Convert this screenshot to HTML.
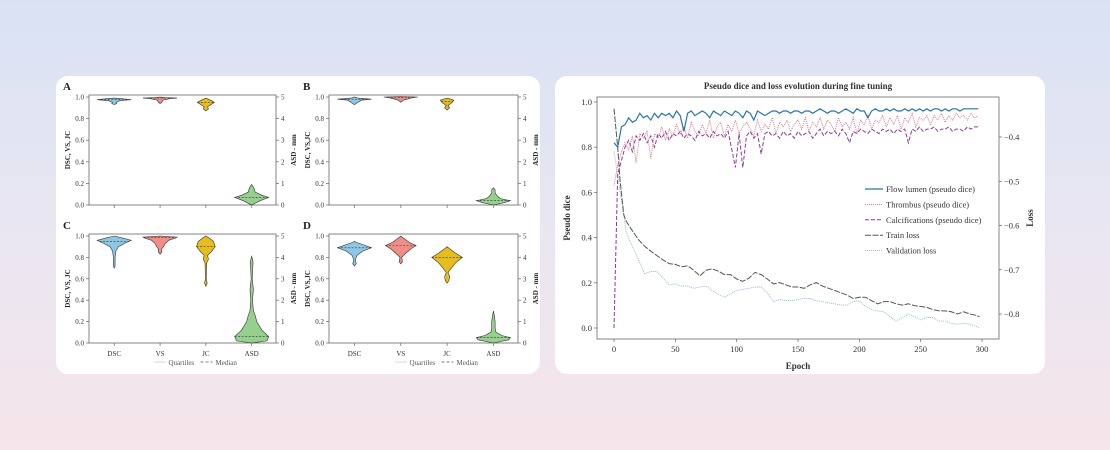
<!DOCTYPE html>
<html><head><meta charset="utf-8">
<style>
html,body{margin:0;padding:0;width:1110px;height:450px;overflow:hidden;font-family:"Liberation Serif",serif}
body{background:linear-gradient(180deg,#d9e2f4 0%,#e9e6f2 50%,#f6e5ea 100%)}
.card{position:absolute;top:76px;height:298px;background:#fff;border-radius:12px}
svg{position:absolute;left:0;top:0}
</style></head>
<body>
<div class="card" style="left:56px;width:484px"></div>
<div class="card" style="left:555px;width:490px"></div>
<svg id="s" width="1110" height="450" font-family="Liberation Serif, serif"></svg>
<script>
// ---------- Violin data ----------
const violinCats = ["DSC","VS","JC","ASD"];
const panelLabels = ["A","B","C","D"];
const violinA = [
 [[0.93,0],[0.94,0.15],[0.95,0.1],[0.965,0.3],[0.975,1],[0.985,0.4],[0.99,0]],
 [[0.94,0],[0.95,0.1],[0.97,0.15],[0.985,0.6],[0.99,1],[0.995,0.3],[1.0,0]],
 [[0.87,0],[0.89,0.15],[0.91,0.1],[0.93,0.3],[0.95,0.5],[0.96,0.4],[0.975,0.2],[0.99,0]],
 [[0,0],[0.2,0.5],[0.35,1],[0.45,0.6],[0.6,0.2],[0.75,0.15],[0.9,0.05],[0.95,0]]];
const violinB = [
 [[0.93,0],[0.95,0.2],[0.97,0.4],[0.98,1],[0.99,0.2],[1.0,0]],
 [[0.95,0],[0.97,0.15],[0.99,0.6],[1.0,1],[1.005,0]],
 [[0.88,0],[0.9,0.15],[0.92,0.05],[0.95,0.3],[0.97,0.4],[0.99,0]],
 [[0,0],[0.1,0.6],[0.2,1],[0.3,0.4],[0.4,0.25],[0.55,0.1],[0.7,0.1],[0.8,0]]];
const violinC = [
 [[0.7,0],[0.72,0.05],[0.8,0.05],[0.86,0.1],[0.9,0.25],[0.93,0.6],[0.96,1],[0.98,0.5],[1.0,0]],
 [[0.83,0],[0.85,0.1],[0.88,0.1],[0.9,0.2],[0.93,0.3],[0.96,0.5],[0.98,0.9],[0.99,1],[1.0,0]],
 [[0.53,0],[0.56,0.08],[0.6,0.02],[0.75,0.05],[0.78,0.15],[0.82,0.1],[0.85,0.3],[0.9,0.55],[0.95,0.45],[0.98,0.2],[1.0,0]],
 [[0,0],[0.1,0.9],[0.3,1],[0.6,0.6],[1.0,0.3],[1.3,0.2],[1.5,0.1],[2,0.05],[2.5,0.1],[3,0.03],[3.8,0.08],[4.05,0]]];
const violinD = [
 [[0.72,0],[0.74,0.1],[0.78,0.05],[0.82,0.15],[0.86,0.5],[0.89,1],[0.92,0.5],[0.94,0.1],[0.95,0]],
 [[0.74,0],[0.76,0.1],[0.8,0.05],[0.84,0.3],[0.88,0.6],[0.91,0.9],[0.94,0.5],[0.98,0.15],[1.0,0]],
 [[0.56,0],[0.58,0.1],[0.62,0.15],[0.66,0.05],[0.7,0.25],[0.75,0.5],[0.8,0.9],[0.84,0.5],[0.88,0.15],[0.9,0]],
 [[0,0],[0.15,0.9],[0.25,1],[0.35,0.5],[0.5,0.15],[0.7,0.1],[1.0,0.1],[1.3,0.05],[1.5,0]]];
const mediansA = [0.975,0.99,0.95,0.35];
const mediansB = [0.98,0.995,0.96,0.2];
const mediansC = [0.95,0.985,0.9,0.3];
const mediansD = [0.89,0.91,0.8,0.25];
const leftTicks = [0,0.2,0.4,0.6,0.8,1.0];
const rightTicks = [0,1,2,3,4,5];

// ---------- Training data ----------
const diceEpochs = Array.from({length:100},(_, i)=>i*3);
const flowLumen = [0.82,0.80,0.89,0.90,0.93,0.91,0.92,0.95,0.93,0.94,0.92,0.95,0.93,0.95,0.94,0.95,0.93,0.96,0.94,0.87,0.95,0.96,0.94,0.95,0.96,0.95,0.93,0.96,0.95,0.94,0.96,0.95,0.94,0.96,0.95,0.93,0.96,0.95,0.92,0.96,0.95,0.94,0.95,0.96,0.96,0.95,0.96,0.96,0.95,0.96,0.96,0.95,0.96,0.96,0.95,0.96,0.97,0.96,0.95,0.96,0.96,0.95,0.96,0.97,0.96,0.95,0.97,0.96,0.96,0.93,0.96,0.97,0.96,0.96,0.97,0.96,0.97,0.96,0.96,0.97,0.96,0.97,0.96,0.97,0.96,0.97,0.96,0.97,0.97,0.96,0.97,0.96,0.97,0.97,0.96,0.97,0.97,0.97,0.97,0.97];
const thrombus = [0.63,0.72,0.78,0.82,0.79,0.85,0.73,0.86,0.84,0.87,0.75,0.86,0.84,0.89,0.83,0.88,0.85,0.90,0.86,0.89,0.84,0.91,0.87,0.85,0.90,0.86,0.92,0.84,0.89,0.91,0.85,0.90,0.87,0.92,0.86,0.89,0.91,0.88,0.85,0.92,0.87,0.90,0.88,0.93,0.86,0.91,0.89,0.92,0.87,0.90,0.92,0.88,0.93,0.87,0.91,0.89,0.93,0.88,0.92,0.90,0.87,0.93,0.89,0.91,0.88,0.93,0.86,0.92,0.90,0.94,0.88,0.92,0.91,0.94,0.89,0.93,0.90,0.94,0.88,0.93,0.91,0.95,0.89,0.93,0.92,0.94,0.90,0.94,0.92,0.95,0.91,0.94,0.92,0.95,0.93,0.94,0.92,0.95,0.93,0.94];
const calcifications = [0.00,0.68,0.74,0.80,0.83,0.78,0.85,0.83,0.86,0.82,0.85,0.80,0.86,0.84,0.87,0.83,0.86,0.85,0.87,0.84,0.86,0.85,0.83,0.87,0.85,0.86,0.84,0.87,0.85,0.86,0.84,0.87,0.79,0.71,0.86,0.71,0.85,0.87,0.84,0.86,0.77,0.86,0.87,0.85,0.86,0.84,0.87,0.85,0.86,0.84,0.87,0.85,0.86,0.87,0.84,0.86,0.88,0.85,0.87,0.86,0.87,0.85,0.88,0.86,0.82,0.87,0.86,0.88,0.87,0.86,0.88,0.87,0.86,0.88,0.87,0.88,0.86,0.88,0.87,0.88,0.82,0.88,0.87,0.89,0.87,0.88,0.88,0.89,0.87,0.88,0.88,0.89,0.87,0.88,0.88,0.87,0.89,0.88,0.89,0.89];
const lossEpochs = [0,3,5,8,10,15,20,25,30,35,40,45,50,55,60,65,70,75,80,85,90,95,100,105,110,115,120,125,130,135,140,145,150,155,160,165,170,175,180,185,190,195,200,205,210,215,220,225,230,235,240,245,250,255,260,265,270,275,280,285,290,295,298];
const trainLoss = [-0.336,-0.423,-0.499,-0.576,-0.591,-0.612,-0.632,-0.647,-0.658,-0.668,-0.678,-0.686,-0.688,-0.693,-0.691,-0.701,-0.714,-0.701,-0.698,-0.703,-0.711,-0.711,-0.721,-0.726,-0.719,-0.706,-0.711,-0.721,-0.732,-0.729,-0.734,-0.739,-0.739,-0.742,-0.734,-0.729,-0.737,-0.742,-0.747,-0.752,-0.757,-0.765,-0.762,-0.762,-0.77,-0.777,-0.772,-0.772,-0.777,-0.78,-0.777,-0.781,-0.783,-0.785,-0.79,-0.793,-0.793,-0.795,-0.8,-0.795,-0.8,-0.803,-0.806];
const valLoss = [-0.433,-0.484,-0.525,-0.576,-0.617,-0.647,-0.678,-0.709,-0.704,-0.704,-0.719,-0.734,-0.732,-0.737,-0.737,-0.742,-0.739,-0.737,-0.747,-0.755,-0.762,-0.755,-0.747,-0.744,-0.742,-0.739,-0.739,-0.752,-0.772,-0.767,-0.77,-0.77,-0.767,-0.765,-0.765,-0.77,-0.772,-0.775,-0.777,-0.78,-0.78,-0.772,-0.77,-0.783,-0.79,-0.793,-0.795,-0.806,-0.816,-0.808,-0.8,-0.806,-0.813,-0.808,-0.808,-0.816,-0.816,-0.821,-0.823,-0.821,-0.823,-0.828,-0.831];
const xTicks = [0,50,100,150,200,250,300];
const diceTicks = [0,0.2,0.4,0.6,0.8,1.0];
const lossTicks = [-0.4,-0.5,-0.6,-0.7,-0.8];

const NS="http://www.w3.org/2000/svg";
const svg=document.getElementById('s');
function mk(tag,attrs,parent,txt){const e=document.createElementNS(NS,tag);for(const k in attrs)e.setAttribute(k,attrs[k]);if(txt!==undefined)e.textContent=txt;(parent||svg).appendChild(e);return e;}

// ---------- violins ----------
const colors=["#8cc7e6","#ef8d86","#e6bd1c","#96d08f"];
const panels=[
 {x0:89,x1:276,y0:95,y1:205,lab:"A",v:violinA,m:mediansA,leg:false},
 {x0:329,x1:518,y0:95,y1:205,lab:"B",v:violinB,m:mediansB,leg:false},
 {x0:89,x1:276,y0:234,y1:343,lab:"C",v:violinC,m:mediansC,leg:true},
 {x0:329,x1:518,y0:234,y1:343,lab:"D",v:violinD,m:mediansD,leg:true}];
panels.forEach((p,pi)=>{
  const g=mk('g',{});
  
  
  const top=p.y0+2;
  const yL=v=>p.y1-(v)*(p.y1-top);
  const yR=v=>p.y1-(v/5)*(p.y1-top);
  const w=p.x1-p.x0;
  const xc=i=>p.x0+w*(0.135+i*0.245);
  mk('rect',{x:p.x0,y:p.y0,width:w,height:p.y1-p.y0,fill:'none',stroke:'#666','stroke-width':0.8},g);
  const pl=mk('text',{x:p.x0-26,y:p.y0-5,'font-size':11,'font-weight':'bold',fill:'#222'},g,panelLabels[pi]);
  
  
  leftTicks.forEach(t=>{const y=yL(t);mk('line',{x1:p.x0-3,x2:p.x0,y1:y,y2:y,stroke:'#666','stroke-width':0.7},g);
    mk('text',{x:p.x0-5,y:y+2.5,'font-size':7,'text-anchor':'end',fill:'#333'},g,t.toFixed(1));});
  rightTicks.forEach(t=>{const y=yR(t);mk('line',{x1:p.x1,x2:p.x1+3,y1:y,y2:y,stroke:'#666','stroke-width':0.7},g);
    mk('text',{x:p.x1+5,y:y+2.5,'font-size':7,fill:'#333'},g,String(t));});
  const yc=(p.y0+p.y1)/2;
  const lt=mk('text',{x:0,y:0,'font-size':7,'font-weight':'bold','text-anchor':'middle',fill:'#222',transform:`translate(${p.x0-19},${yc}) rotate(-90)`},g,pi%2?"DSC, VS,JC":"DSC, VS, JC");
  
  
  const rt=mk('text',{x:0,y:0,'font-size':7,'font-weight':'bold','text-anchor':'middle',fill:'#222',transform:`translate(${p.x1+20},${yc}) rotate(-90)`},g,"ASD - mm");
  
  
  p.v.forEach((prof,i)=>{
    const sy=i===3?yR:yL; const cx=xc(i); const maxW=17;
    let d='';prof.forEach((k,j)=>{d+=(j?'L':'M')+(cx+k[1]*maxW).toFixed(1)+','+sy(k[0]).toFixed(1);});
    for(let j=prof.length-1;j>=0;j--){const k=prof[j];d+='L'+(cx-k[1]*maxW).toFixed(1)+','+sy(k[0]).toFixed(1);}
    const path=mk('path',{d:d+'Z',fill:colors[i],stroke:'#333','stroke-width':0.6},g);
    
    
    const my=sy(p.m[i]);
    let hw=0;for(let j=1;j<prof.length;j++){const a=prof[j-1],b=prof[j];if((p.m[i]-a[0])*(p.m[i]-b[0])<=0){const t=(p.m[i]-a[0])/((b[0]-a[0])||1);hw=(a[1]+t*(b[1]-a[1]))*maxW;}}
    mk('line',{x1:cx-hw,x2:cx+hw,y1:my,y2:my,stroke:'#333','stroke-width':0.6,'stroke-dasharray':'2,1.5'},g);
    mk('line',{x1:cx,x2:cx,y1:p.y1,y2:p.y1+3,stroke:'#666','stroke-width':0.7},g);
    if(p.leg){const tl=mk('text',{x:cx,y:p.y1+13,'font-size':7,'text-anchor':'middle',fill:'#333'},g,violinCats[i]);
      
      }
  });
  if(p.leg){const lx=(p.x0+p.x1)/2-28;
    const lg=mk('g',{},g);
    
    
    mk('line',{x1:lx,x2:lx+12,y1:p.y1+19,y2:p.y1+19,stroke:'#e07b80','stroke-width':0.8,'stroke-dasharray':'1,1'},lg);
    mk('text',{x:lx+14,y:p.y1+22,'font-size':7,fill:'#555'},lg,'Quartiles');
    mk('line',{x1:lx+46,x2:lx+58,y1:p.y1+19,y2:p.y1+19,stroke:'#555','stroke-width':0.8,'stroke-dasharray':'3,2'},lg);
    mk('text',{x:lx+61,y:p.y1+22,'font-size':7,fill:'#555'},lg,'Median');}
});

// ---------- training chart ----------
const L=597,R=999,T=97,B=339;
const X=e=>614+e*(982-614)/300;
const Y=v=>328-v*226;
const Y2=v=>137+(-0.4-v)*442.5;
const tg=mk('g',{});


const tt=mk('text',{x:798,y:89,'font-size':9,'font-weight':'bold','text-anchor':'middle',fill:'#333'},tg,'Pseudo dice and loss evolution during fine tuning');


mk('rect',{x:L,y:T,width:R-L,height:B-T,fill:'none',stroke:'#666','stroke-width':0.8},tg);
xTicks.forEach(t=>{const x=X(t);mk('line',{x1:x,x2:x,y1:B,y2:B+3,stroke:'#666','stroke-width':0.7},tg);
  mk('text',{x:x,y:B+13,'font-size':8.5,'text-anchor':'middle',fill:'#333'},tg,String(t));});
diceTicks.forEach(t=>{const y=Y(t);mk('line',{x1:L-3,x2:L,y1:y,y2:y,stroke:'#666','stroke-width':0.7},tg);
  mk('text',{x:L-5,y:y+3,'font-size':8.5,'text-anchor':'end',fill:'#333'},tg,t.toFixed(1));});
lossTicks.forEach(t=>{const y=Y2(t);mk('line',{x1:R,x2:R+3,y1:y,y2:y,stroke:'#666','stroke-width':0.7},tg);
  mk('text',{x:R+5,y:y+3,'font-size':8.5,fill:'#333'},tg,'\u2212'+Math.abs(t).toFixed(1));});
const xl=mk('text',{x:798,y:369,'font-size':9,'font-weight':'bold','text-anchor':'middle',fill:'#333'},tg,'Epoch');


const yl=mk('text',{x:0,y:0,'font-size':9,'font-weight':'bold','text-anchor':'middle',fill:'#333',transform:'translate(570,218) rotate(-90)'},tg,'Pseudo dice');


const y2l=mk('text',{x:0,y:0,'font-size':9,'font-weight':'bold','text-anchor':'middle',fill:'#333',transform:'translate(1033,218) rotate(-90)'},tg,'Loss');


function line(xs,ys,fy,style,name){let d='';xs.forEach((e,i)=>{d+=(i?'L':'M')+X(e).toFixed(1)+','+fy(ys[i]).toFixed(1);});
  const p=mk('path',Object.assign({d:d,fill:'none'},style),tg);
  
  }
line(lossEpochs,valLoss,Y2,{stroke:'#8fb3d6','stroke-width':0.9,'stroke-dasharray':'1,1'},'validation-loss-line');
line(lossEpochs,trainLoss,Y2,{stroke:'#555','stroke-width':1,'stroke-dasharray':'6,1.5'},'train-loss-line');
line(diceEpochs,calcifications,Y,{stroke:'#8a3a9c','stroke-width':1,'stroke-dasharray':'4,2'},'calcifications-line');
line(diceEpochs,thrombus,Y,{stroke:'#e06a80','stroke-width':0.9,'stroke-dasharray':'1,1'},'thrombus-line');
line(diceEpochs,flowLumen,Y,{stroke:'#2b74a8','stroke-width':1.2},'flow-lumen-line');
const legItems=[['Flow lumen (pseudo dice)',{stroke:'#2b74a8','stroke-width':1.2}],
 ['Thrombus (pseudo dice)',{stroke:'#e06a80','stroke-width':0.9,'stroke-dasharray':'1,1'}],
 ['Calcifications (pseudo dice)',{stroke:'#8a3a9c','stroke-width':1,'stroke-dasharray':'4,2'}],
 ['Train loss',{stroke:'#555','stroke-width':1,'stroke-dasharray':'6,1.5'}],
 ['Validation loss',{stroke:'#8fb3d6','stroke-width':0.9,'stroke-dasharray':'1,1'}]];
legItems.forEach((it,i)=>{const y=189+i*15.4;
  const lg=mk('g',{},tg);
  
  
  mk('line',Object.assign({x1:865,x2:883,y1:y,y2:y},it[1]),lg);
  mk('text',{x:886,y:y+3,'font-size':8.5,fill:'#333'},lg,it[0]);});
</script>
</body></html>
